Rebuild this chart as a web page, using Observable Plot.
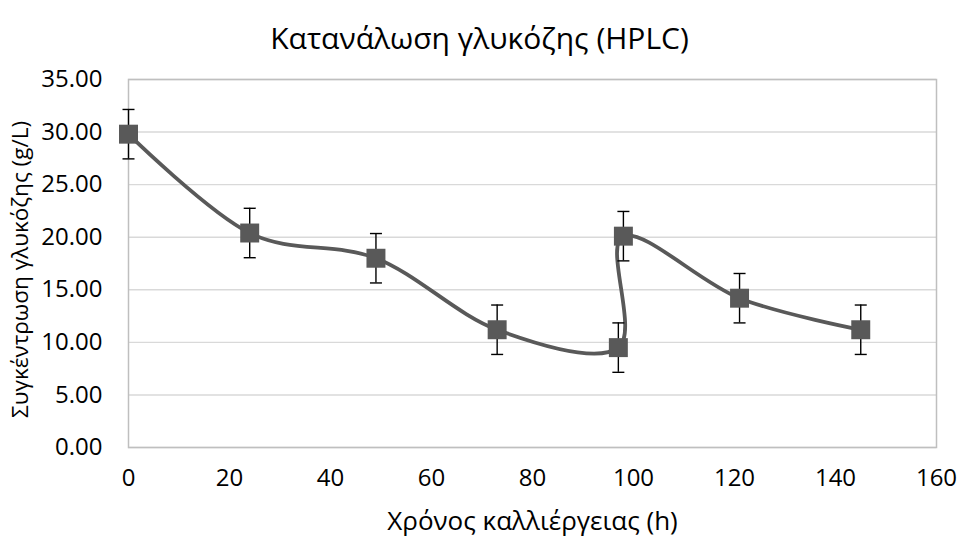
<!DOCTYPE html>
<html>
<head>
<meta charset="utf-8">
<script src="https://cdn.jsdelivr.net/npm/d3@7"></script>
<script src="https://cdn.jsdelivr.net/npm/@observablehq/plot@0.6"></script>
<style>
  html, body { margin: 0; padding: 0; background: #fff; }
  #chart { width: 959px; height: 540px; font-family: "Open Sans", "Noto Sans", sans-serif; }
  #title { height: 62px; line-height: 76px; text-align: center; font-size: 30px; color: #000; }
</style>
</head>
<body>
<div id="chart">
  <div id="title">Κατανάλωση γλυκόζης (HPLC)</div>
</div>
<script>
// Culture time (h) and glucose concentration (g/L) measured by HPLC
const hours = [0, 24, 49, 73, 97, 98, 121, 145];
const glucose = [29.8, 20.4, 18.0, 11.2, 9.5, 20.1, 14.2, 11.2];
const errors = [2.35, 2.35, 2.35, 2.35, 2.35, 2.35, 2.35, 2.35];
const yTicks = [0, 5, 10, 15, 20, 25, 30, 35];
const xTicks = [0, 20, 40, 60, 80, 100, 120, 140, 160];
const xLabel = "Χρόνος καλλιέργειας (h)";
const yLabel = "Συγκέντρωση γλυκόζης (g/L)";

const rows = hours.map((t, i) => ({t, g: glucose[i], lo: glucose[i] - errors[i], hi: glucose[i] + errors[i]}));
const caps = rows.flatMap(d => [{t: d.t, v: d.lo}, {t: d.t, v: d.hi}]);

// horizontal cap for the error bars
const capSymbol = {
  draw(context) {
    context.moveTo(-6, 0);
    context.lineTo(6, 0);
  }
};

const grey = "#595959";

const plot = Plot.plot({
  width: 959,
  height: 478,
  marginTop: 17,
  marginBottom: 93,
  marginLeft: 128,
  marginRight: 23,
  style: {fontFamily: "'Open Sans', 'Noto Sans', sans-serif", color: "#000", background: "#fff"},
  x: {domain: [0, 160], axis: null},
  y: {domain: [0, 35], axis: null},
  marks: [
    Plot.gridY(yTicks, {stroke: "#d9d9d9", strokeOpacity: 1, strokeWidth: 1.4}),
    Plot.frame({stroke: "#bfbfbf", strokeWidth: 1.5}),
    // tick labels
    Plot.text(yTicks, {y: d => d, text: d => d.toFixed(2), frameAnchor: "left", textAnchor: "end", dx: -26, fontSize: 24, fill: "#000"}),
    Plot.text(xTicks, {x: d => d, text: d => String(d), frameAnchor: "bottom", dy: 38, fontSize: 24, fill: "#000"}),
    // axis titles
    Plot.text([yLabel], {frameAnchor: "left", textAnchor: "middle", rotate: -90, dx: -108, dy: 6, fontSize: 22.5}),
    Plot.text([xLabel], {frameAnchor: "bottom", dy: 82, fontSize: 26}),
    Plot.line(rows, {x: "t", y: "g", curve: "cardinal", stroke: grey, strokeWidth: 3.8}),
    Plot.ruleX(rows, {x: "t", y1: "lo", y2: "hi", stroke: "#000", strokeWidth: 1.4}),
    Plot.dot(caps, {x: "t", y: "v", symbol: capSymbol, stroke: "#000", strokeWidth: 1.4, r: 6}),
    Plot.dot(rows, {x: "t", y: "g", symbol: "square", r: 10.7, fill: grey, stroke: "none"})
  ]
});

document.getElementById("chart").appendChild(plot);
</script>
</body>
</html>
